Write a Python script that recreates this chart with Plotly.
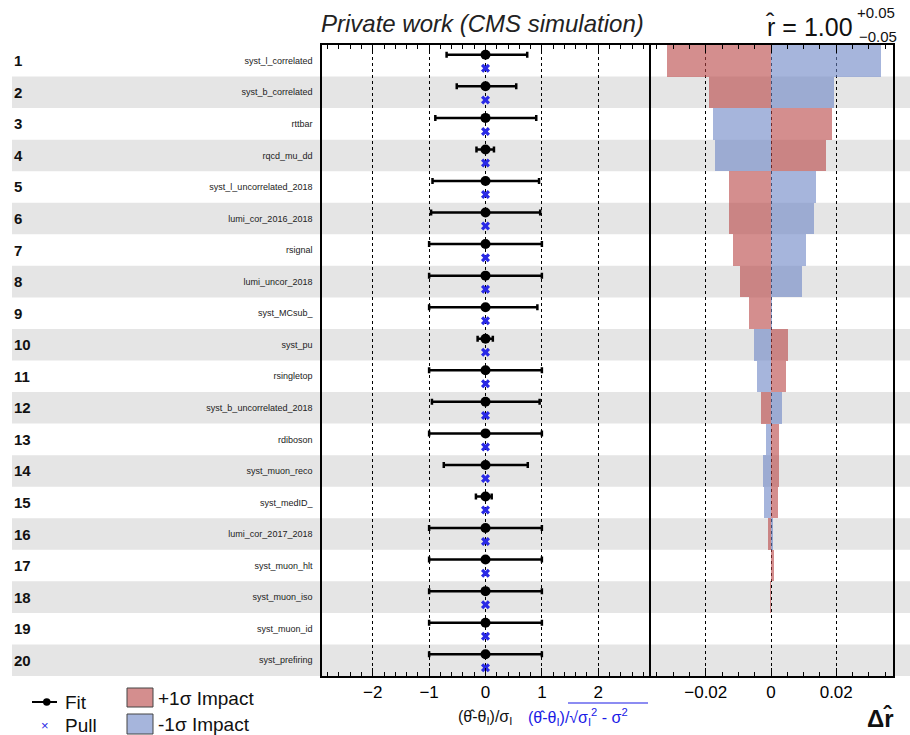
import plotly.graph_objects as go

# ---------------- data ----------------
rows = list(range(1, 21))
names = ["syst_l_correlated", "syst_b_correlated", "rttbar", "rqcd_mu_dd",
         "syst_l_uncorrelated_2018", "lumi_cor_2016_2018", "rsignal", "lumi_uncor_2018",
         "syst_MCsub_", "syst_pu", "rsingletop", "syst_b_uncorrelated_2018",
         "rdiboson", "syst_muon_reco", "syst_medID_", "lumi_cor_2017_2018",
         "syst_muon_hlt", "syst_muon_iso", "syst_muon_id", "syst_prefiring"]
fit_value = [0.0, 0.0, 0.0, 0.0, 0.0, 0.0, 0.0, 0.0, 0.0, 0.0,
             0.0, 0.0, 0.0, 0.0, 0.0, 0.0, 0.0, 0.0, 0.0, 0.0]
fit_err_low = [0.69, 0.51, 0.89, 0.16, 0.94, 0.965, 1.0, 1.0, 1.0, 0.14,
               1.0, 0.95, 1.0, 0.74, 0.17, 1.0, 1.0, 1.0, 1.0, 1.0]
fit_err_high = [0.74, 0.545, 0.90, 0.15, 0.95, 0.97, 1.0, 1.0, 0.92, 0.13,
                1.0, 0.96, 1.0, 0.75, 0.11, 1.0, 1.0, 1.0, 1.0, 1.0]
pull_value = [0.0, 0.0, 0.0, 0.0, 0.0, 0.0, 0.0, 0.0, 0.0, 0.0,
              0.0, 0.0, 0.0, 0.0, 0.0, 0.0, 0.0, 0.0, 0.0, 0.0]
impact_plus = [-0.0319, -0.0190, 0.0186, 0.0169, -0.0129, -0.0129, -0.0116, -0.0094,
               -0.0066, 0.0051, 0.0047, -0.0032, 0.0026, 0.0025, 0.0022, -0.0009,
               0.0008, -0.0002, 0.0001, 0.0]
impact_minus = [0.0338, 0.0193, -0.0179, -0.0172, 0.0139, 0.0131, 0.0107, 0.0095,
                0.0002, -0.0051, -0.0044, 0.0033, -0.0016, -0.0024, -0.0022, 0.0007,
                -0.0001, 0.0001, 0.0, 0.0]
pull_ticks = [-2, -1, 0, 1, 2]
pull_ticktext = ["\u22122", "\u22121", "0", "1", "2"]
impact_ticks = [-0.02, 0, 0.02]
impact_ticktext = ["\u22120.02", "0", "0.02"]

# ---------------- geometry helpers ----------------
W, H = 910, 735
def px(x):
    return x / W
def py(y):
    return 1 - y / H

FONT = "Liberation Sans, Arial, Helvetica, sans-serif"
RED = "rgba(183,67,67,0.6)"
BLUE = "rgba(107,132,197,0.6)"
PULL_BLUE = "#2a2ae6"

fig = go.Figure()

fig.add_trace(go.Bar(y=rows, x=impact_plus, orientation="h", xaxis="x2", yaxis="y2",
                     width=1.0, marker=dict(color=RED, line=dict(width=0)),
                     showlegend=False, hoverinfo="x+y"))
fig.add_trace(go.Bar(y=rows, x=impact_minus, orientation="h", xaxis="x2", yaxis="y2",
                     width=1.0, marker=dict(color=BLUE, line=dict(width=0)),
                     showlegend=False, hoverinfo="x+y"))

fig.add_trace(go.Scatter(
    x=fit_value, y=[r - 0.19 for r in rows], mode="markers", xaxis="x", yaxis="y",
    marker=dict(color="black", size=10),
    error_x=dict(type="data", symmetric=False, array=fit_err_high, arrayminus=fit_err_low,
                 color="black", thickness=2.5, width=3),
    showlegend=False))
fig.add_trace(go.Scatter(
    x=pull_value, y=[r + 0.24 for r in rows], mode="markers", xaxis="x", yaxis="y",
    marker=dict(symbol="x", color=PULL_BLUE, size=8, line=dict(width=0)),
    showlegend=False))

ydom = [py(676), py(45)]
xdom1 = [px(322), px(649)]
xdom2 = [px(649), px(893)]

common_x = dict(ticks="inside", ticklen=8, tickwidth=1, tickcolor="black",
                showline=True, linecolor="black", linewidth=1.5, mirror="ticks",
                showgrid=True, gridcolor="black", griddash="dot", gridwidth=1.4,
                zeroline=False, tickfont=dict(family=FONT, size=17, color="black"))

fig.update_layout(
    width=W, height=H, margin=dict(l=0, r=0, t=0, b=0),
    paper_bgcolor="white", plot_bgcolor="rgba(0,0,0,0)",
    barmode="overlay", bargap=0,
    xaxis=dict(domain=xdom1, range=[-2.9, 2.9], anchor="y",
               tickvals=pull_ticks, ticktext=pull_ticktext,
               minor=dict(ticks="inside", ticklen=4, tickcolor="black", dtick=0.2, tick0=0,
                          showgrid=False),
               **common_x),
    xaxis2=dict(domain=xdom2, range=[-0.0374, 0.0374], anchor="y2",
                tickvals=impact_ticks, ticktext=impact_ticktext,
                minor=dict(ticks="inside", ticklen=4, tickcolor="black", dtick=0.005, tick0=0,
                           showgrid=False),
                **common_x),
    yaxis=dict(domain=ydom, range=[20.5, 0.5], anchor="x",
               tickvals=rows, ticktext=names, ticks="", ticklabelstandoff=6,
               tickfont=dict(family=FONT, size=9, color="#222"),
               showgrid=False, zeroline=False, showline=True, linecolor="black",
               linewidth=1.5, mirror=True),
    yaxis2=dict(domain=ydom, range=[20.5, 0.5], anchor="x2", side="right",
                showticklabels=False, ticks="", showgrid=False, zeroline=False,
                showline=True, linecolor="black", linewidth=1.5, mirror=False),
)

shapes = []
# alternating grey stripes
for r in rows:
    if r % 2 == 0:
        shapes.append(dict(type="rect", xref="paper", yref="y", x0=px(12), x1=1.0,
                           y0=r - 0.5, y1=r + 0.5, fillcolor="#e5e5e5",
                           line=dict(width=0), layer="below"))

annotations = []
for r in rows:
    annotations.append(dict(xref="paper", yref="y", x=px(12), y=r, xanchor="left",
                            yanchor="middle", text="<b>%d</b>" % r, showarrow=False,
                            font=dict(family=FONT, size=15, color="#111")))

# title and r-hat
annotations.append(dict(xref="paper", yref="paper", x=px(482), y=py(24), xanchor="center",
                        yanchor="middle", text="<i>Private work (CMS simulation)</i>",
                        showarrow=False, font=dict(family=FONT, size=24, color="#222")))
annotations.append(dict(xref="paper", yref="paper", x=px(855), y=py(26), xanchor="right",
                        yanchor="middle", text="r\u0302 = 1.00", showarrow=False,
                        font=dict(family=FONT, size=25, color="#111")))
annotations.append(dict(xref="paper", yref="paper", x=px(855), y=py(13), xanchor="left",
                        yanchor="middle", text="+0.05", showarrow=False,
                        font=dict(family=FONT, size=15, color="#111")))
annotations.append(dict(xref="paper", yref="paper", x=px(857), y=py(36), xanchor="left",
                        yanchor="middle", text="\u22120.05", showarrow=False,
                        font=dict(family=FONT, size=15, color="#111")))

# axis titles
annotations.append(dict(xref="paper", yref="paper", x=px(456), y=py(717), xanchor="left",
                        yanchor="middle", text="(\u03b8\u0302-\u03b8<sub>I</sub>)/\u03c3<sub>I</sub>",
                        showarrow=False, font=dict(family=FONT, size=16, color="#111")))
annotations.append(dict(xref="paper", yref="paper", x=px(526), y=py(717), xanchor="left",
                        yanchor="middle",
                        text="(\u03b8\u0302-\u03b8<sub>I</sub>)/\u221a\u03c3<sub>I</sub><sup>2</sup> - \u03c3<sup>2</sup>",
                        showarrow=False, font=dict(family=FONT, size=16, color="#1a1ae6")))
shapes.append(dict(type="line", xref="paper", yref="paper", x0=px(568), x1=px(648),
                   y0=py(703), y1=py(703), line=dict(color="#1a1ae6", width=1.2)))
annotations.append(dict(xref="paper", yref="paper", x=px(896), y=py(718), xanchor="right",
                        yanchor="middle", text="<b>\u0394r\u0302</b>", showarrow=False,
                        font=dict(family=FONT, size=24, color="#111")))

# legend (manual)
shapes.append(dict(type="line", xref="paper", yref="paper", x0=px(32), x1=px(57),
                   y0=py(702), y1=py(702), line=dict(color="black", width=2)))
shapes.append(dict(type="circle", xref="paper", yref="paper", x0=px(43), x1=px(50.5),
                   y0=py(698.3), y1=py(705.7), fillcolor="black", line=dict(width=0)))
annotations.append(dict(xref="paper", yref="paper", x=px(63), y=py(702), xanchor="left",
                        yanchor="middle", text="Fit", showarrow=False,
                        font=dict(family=FONT, size=19, color="#111")))
annotations.append(dict(xref="paper", yref="paper", x=px(45), y=py(725), xanchor="center",
                        yanchor="middle", text="\u00d7", showarrow=False,
                        font=dict(family=FONT, size=13, color=PULL_BLUE)))
annotations.append(dict(xref="paper", yref="paper", x=px(63), y=py(725), xanchor="left",
                        yanchor="middle", text="Pull", showarrow=False,
                        font=dict(family=FONT, size=19, color="#111")))
shapes.append(dict(type="rect", xref="paper", yref="paper", x0=px(127), x1=px(153),
                   y0=py(707), y1=py(688), fillcolor="rgb(212,142,142)",
                   line=dict(color="#444", width=1)))
shapes.append(dict(type="rect", xref="paper", yref="paper", x0=px(127), x1=px(153),
                   y0=py(734), y1=py(714), fillcolor="rgb(166,181,220)",
                   line=dict(color="#444", width=1)))
annotations.append(dict(xref="paper", yref="paper", x=px(156), y=py(698), xanchor="left",
                        yanchor="middle", text="+1\u03c3 Impact", showarrow=False,
                        font=dict(family=FONT, size=19, color="#111")))
annotations.append(dict(xref="paper", yref="paper", x=px(156), y=py(724), xanchor="left",
                        yanchor="middle", text="-1\u03c3 Impact", showarrow=False,
                        font=dict(family=FONT, size=19, color="#111")))

fig.update_layout(shapes=shapes, annotations=annotations)
fig.write_html("out.html")
